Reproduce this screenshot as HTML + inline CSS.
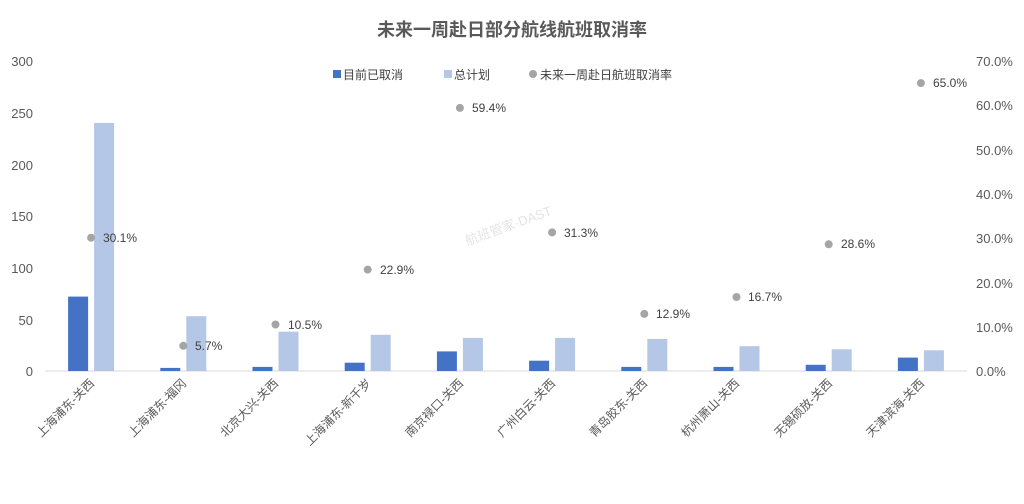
<!DOCTYPE html>
<html><head><meta charset="utf-8"><style>
body{margin:0;background:#fff;}
svg text{font-family:"Liberation Sans","Noto Sans CJK SC",sans-serif;}
</style></head><body>
<svg width="1024" height="499" viewBox="0 0 1024 499" xmlns="http://www.w3.org/2000/svg">
<rect width="1024" height="499" fill="#fff"/>
<text x="512" y="36" text-anchor="middle" font-size="18" font-weight="bold" fill="#595959">未来一周赴日部分航线航班取消率</text>
<g font-size="13" fill="#595959" text-anchor="end">
<text x="33" y="376">0</text><text x="33" y="325">50</text><text x="33" y="273">100</text>
<text x="33" y="221">150</text><text x="33" y="170">200</text><text x="33" y="118">250</text><text x="33" y="66">300</text>
</g>
<g font-size="13" fill="#595959" text-anchor="start">
<text x="976" y="376">0.0%</text><text x="976" y="332">10.0%</text><text x="976" y="288">20.0%</text>
<text x="976" y="243">30.0%</text><text x="976" y="199">40.0%</text><text x="976" y="155">50.0%</text>
<text x="976" y="110">60.0%</text><text x="976" y="66">70.0%</text>
</g>
<line x1="45" y1="371" x2="967" y2="371" stroke="#d9d9d9" stroke-width="1"/>
<text x="510" y="230" font-size="13" fill="#e4e4e4" transform="rotate(-20 510 230)" text-anchor="middle">航班管家·DAST</text>
<g fill="#4472c4">
<rect x="68.1" y="296.6" width="20" height="74.4"/>
<rect x="160.3" y="367.9" width="20" height="3.1"/>
<rect x="252.5" y="366.9" width="20" height="4.1"/>
<rect x="344.7" y="362.7" width="20" height="8.3"/>
<rect x="436.9" y="351.4" width="20" height="19.6"/>
<rect x="529.1" y="360.7" width="20" height="10.3"/>
<rect x="621.3" y="366.9" width="20" height="4.1"/>
<rect x="713.5" y="366.9" width="20" height="4.1"/>
<rect x="805.7" y="364.8" width="20" height="6.2"/>
<rect x="897.9" y="357.6" width="20" height="13.4"/>
</g>
<g fill="#b4c7e7">
<rect x="94.1" y="123" width="20" height="248"/>
<rect x="186.3" y="316.2" width="20" height="54.8"/>
<rect x="278.5" y="331.7" width="20" height="39.3"/>
<rect x="370.7" y="334.8" width="20" height="36.2"/>
<rect x="462.9" y="337.9" width="20" height="33.1"/>
<rect x="555.1" y="337.9" width="20" height="33.1"/>
<rect x="647.3" y="339" width="20" height="32"/>
<rect x="739.5" y="346.2" width="20" height="24.8"/>
<rect x="831.7" y="349.3" width="20" height="21.7"/>
<rect x="923.9" y="350.3" width="20" height="20.7"/>
</g>
<g fill="#a5a5a5">
<circle cx="91.1" cy="237.7" r="4"/><circle cx="183.3" cy="345.8" r="4"/><circle cx="275.5" cy="324.5" r="4"/>
<circle cx="367.7" cy="269.6" r="4"/><circle cx="459.9" cy="107.9" r="4"/><circle cx="552.1" cy="232.4" r="4"/>
<circle cx="644.3" cy="313.9" r="4"/><circle cx="736.5" cy="297" r="4"/><circle cx="828.7" cy="244.3" r="4"/>
<circle cx="920.9" cy="83.1" r="4"/>
</g>
<g font-size="12" fill="#404040">
<text x="103" y="242">30.1%</text><text x="195" y="350">5.7%</text><text x="288" y="329">10.5%</text>
<text x="380" y="274">22.9%</text><text x="472" y="112">59.4%</text><text x="564" y="237">31.3%</text>
<text x="656" y="318">12.9%</text><text x="748" y="301">16.7%</text><text x="841" y="248">28.6%</text>
<text x="933" y="87">65.0%</text>
</g>
<g font-size="12" fill="#595959" text-anchor="end">
<text x="95" y="384" transform="rotate(-45 95 384)">上海浦东-关西</text>
<text x="187" y="384" transform="rotate(-45 187 384)">上海浦东-福冈</text>
<text x="279" y="384" transform="rotate(-45 279 384)">北京大兴-关西</text>
<text x="372" y="384" transform="rotate(-45 372 384)">上海浦东-新千岁</text>
<text x="464" y="384" transform="rotate(-45 464 384)">南京禄口-关西</text>
<text x="556" y="384" transform="rotate(-45 556 384)">广州白云-关西</text>
<text x="648" y="384" transform="rotate(-45 648 384)">青岛胶东-关西</text>
<text x="740" y="384" transform="rotate(-45 740 384)">杭州萧山-关西</text>
<text x="833" y="384" transform="rotate(-45 833 384)">无锡硕放-关西</text>
<text x="925" y="384" transform="rotate(-45 925 384)">天津滨海-关西</text>
</g>
<g font-size="12" fill="#404040">
<rect x="333" y="70" width="8" height="8" fill="#4472c4"/><text x="343" y="79">目前已取消</text>
<rect x="444" y="70" width="8" height="8" fill="#b4c7e7"/><text x="454" y="79">总计划</text>
<circle cx="533" cy="74" r="4" fill="#a5a5a5"/><text x="540" y="79">未来一周赴日航班取消率</text>
</g>
</svg>
</body></html>
